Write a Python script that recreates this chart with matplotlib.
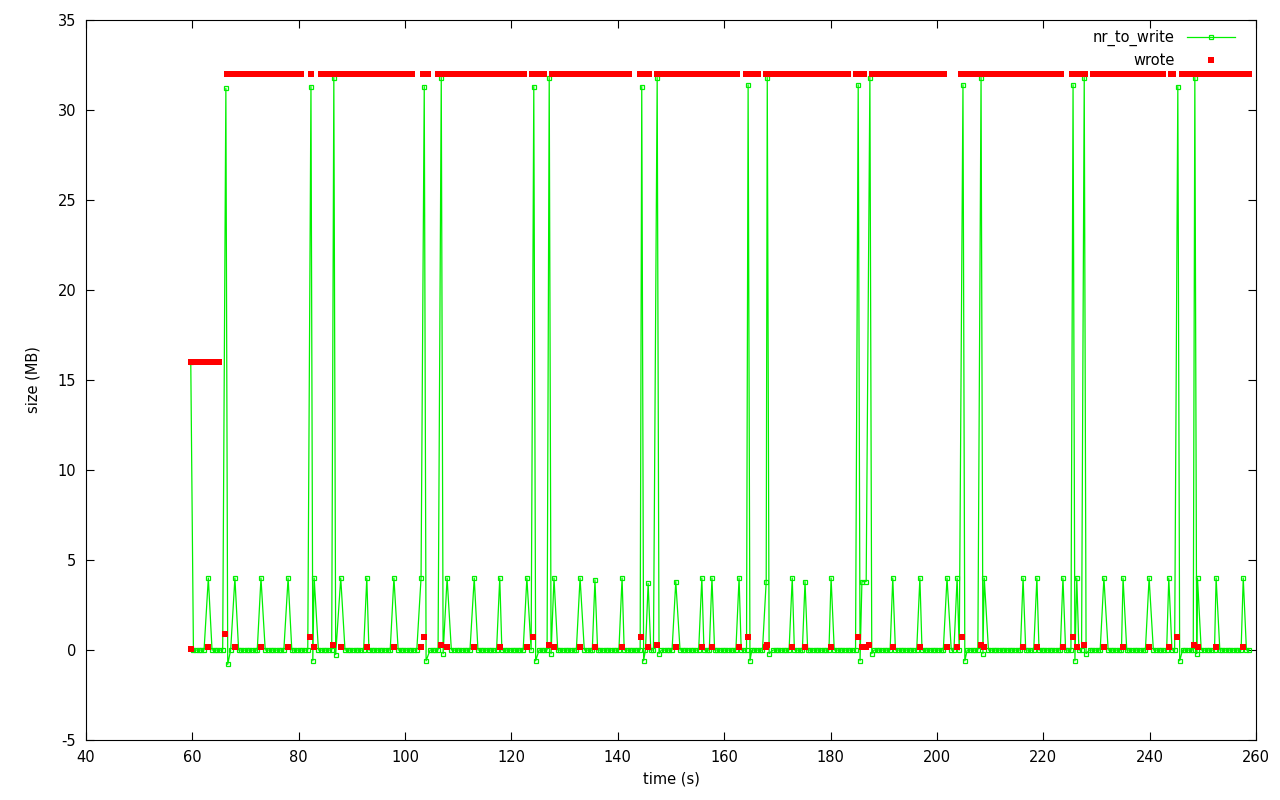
"""
nr_to_write vs wrote over time (writeback trace), gnuplot-like look.
"""
import numpy as np
import matplotlib

matplotlib.use("Agg")
import matplotlib.pyplot as plt

# sampling of the trace
SAMPLE_STEP = 0.5
T_FIRST = 59.7
T_LAST = 258.8

# nr_to_write: first sample, then events that leave the zero baseline
START_T = [59.7]
START_V = [16.0]

SMALL_T = [63.0, 68.0, 72.9, 78.0, 82.9, 87.9, 92.8, 97.9, 103.0, 107.9,
           113.0, 117.8, 122.9, 128.0, 132.9, 135.7, 140.8, 145.7, 150.9, 155.8,
           157.7, 162.8, 167.9, 172.8, 175.2, 180.1, 185.9, 186.7, 191.7, 196.8,
           201.9, 203.8, 208.9, 216.2, 218.8, 223.7, 226.3, 231.4, 235.0, 239.9,
           243.6, 249.0, 252.5, 257.6]
SMALL_V = [4.0, 4.0, 4.0, 4.0, 4.0, 4.0, 4.0, 4.0, 4.0, 4.0,
           4.0, 4.0, 4.0, 4.0, 4.0, 3.9, 4.0, 3.7, 3.8, 4.0,
           4.0, 4.0, 3.8, 4.0, 3.8, 4.0, 3.8, 3.8, 4.0, 4.0,
           4.0, 4.0, 4.0, 4.0, 4.0, 4.0, 4.0, 4.0, 4.0, 4.0,
           4.0, 4.0, 4.0, 4.0]

BIG_T = [66.3, 82.3, 103.6, 124.2, 144.5, 164.5, 185.2, 204.9, 225.6, 245.3]
BIG_V = [31.2, 31.3, 31.3, 31.3, 31.3, 31.4, 31.4, 31.4, 31.4, 31.3]
BIG_DIP_V = [-0.8, -0.6, -0.6, -0.6, -0.6, -0.6, -0.6, -0.6, -0.6, -0.6]

TALL_T = [86.6, 106.8, 127.1, 147.4, 168.1, 187.4, 208.3, 227.7, 248.5]
TALL_V = [31.8, 31.8, 31.8, 31.8, 31.8, 31.8, 31.8, 31.8, 31.8]
TALL_DIP_V = [-0.25, -0.2, -0.2, -0.2, -0.2, -0.2, -0.2, -0.2, -0.2]

# wrote: long runs at 16 and 32 MB, small writes near the baseline
WROTE_16_RUN = (59.8, 65.2)
WROTE_32_RUN = (66.6, 258.8)
WROTE_32_GAPS = [(80.6, 82.1), (82.6, 83.9), (101.6, 103.1), (104.6, 106.0),
                 (122.4, 123.8), (126.3, 127.5), (142.3, 143.9), (146.1, 147.3),
                 (162.4, 163.9), (166.6, 167.6), (183.6, 184.8), (186.5, 187.8),
                 (201.4, 204.5), (207.2, 208.2), (223.6, 225.1), (228.1, 229.2),
                 (242.8, 243.9), (244.6, 245.9)]
WROTE_SMALL_V = 0.15
WROTE_BIG_V = [0.9, 0.7, 0.7, 0.7, 0.7, 0.7, 0.7, 0.7, 0.7, 0.7]
WROTE_TALL_V = [0.3, 0.3, 0.3, 0.3, 0.3, 0.3, 0.3, 0.3, 0.3]

GREEN = "#00f000"
RED = "#ff0000"


def build_nr_to_write():
    ev_t = list(START_T) + list(SMALL_T) + list(BIG_T) + list(TALL_T)
    ev_v = list(START_V) + list(SMALL_V) + list(BIG_V) + list(TALL_V)
    ev_t += [t + 0.35 for t in BIG_T] + [t + 0.35 for t in TALL_T]
    ev_v += list(BIG_DIP_V) + list(TALL_DIP_V)
    ev_t = np.array(ev_t)
    grid = np.arange(T_FIRST, T_LAST, SAMPLE_STEP)
    keep = np.array([np.min(np.abs(ev_t - g)) > 0.3 for g in grid])
    t = np.concatenate([grid[keep], ev_t])
    v = np.concatenate([np.zeros(keep.sum()), np.array(ev_v)])
    order = np.argsort(t)
    return t[order], v[order]


def build_wrote():
    t16 = np.arange(WROTE_16_RUN[0], WROTE_16_RUN[1], SAMPLE_STEP / 2)
    t32 = np.arange(WROTE_32_RUN[0], WROTE_32_RUN[1], SAMPLE_STEP / 2)
    for a, b in WROTE_32_GAPS:
        t32 = t32[(t32 < a) | (t32 > b)]
    t = np.concatenate([t16, t32, [59.8], SMALL_T,
                        [x - 0.1 for x in BIG_T], [x - 0.1 for x in TALL_T]])
    v = np.concatenate([np.full(len(t16), 16.0), np.full(len(t32), 32.0),
                        [0.05], np.full(len(SMALL_T), WROTE_SMALL_V),
                        WROTE_BIG_V, WROTE_TALL_V])
    return t, v


plt.rcParams["font.family"] = "DejaVu Sans"
plt.rcParams["font.size"] = 10.5
plt.rcParams["axes.unicode_minus"] = False

fig = plt.figure(figsize=(12.8, 8), dpi=100)
ax = fig.add_axes([86 / 1280, 60 / 800, 1170 / 1280, 720 / 800])

nt, nv = build_nr_to_write()
wt, wv = build_wrote()

ax.plot(nt, nv, color=GREEN, lw=0.9, marker="s", ms=3.5, mfc="none",
        mec=GREEN, mew=0.9, label="nr_to_write", zorder=2)
ax.plot(wt, wv, color=RED, ls="none", marker="s", ms=4.2, mew=0,
        label="wrote", zorder=3)

ax.set_xlim(40, 260)
ax.set_ylim(-5, 35)
ax.set_xticks(np.arange(40, 261, 20))
ax.set_yticks(np.arange(-5, 36, 5))
ax.tick_params(direction="in", length=6, width=0.8, top=True, right=True, pad=7)
for s in ax.spines.values():
    s.set_linewidth(0.8)

ax.set_xlabel("time (s)", labelpad=5)
ax.set_ylabel("size (MB)", labelpad=12)

leg = ax.legend(loc="upper right", bbox_to_anchor=(1 - 11 / 1170, 1),
                frameon=False, markerfirst=False,
                numpoints=1, handlelength=3.3, borderaxespad=0.3,
                labelspacing=0.45, handletextpad=0.8)

fig.savefig("out.png", dpi=100)
